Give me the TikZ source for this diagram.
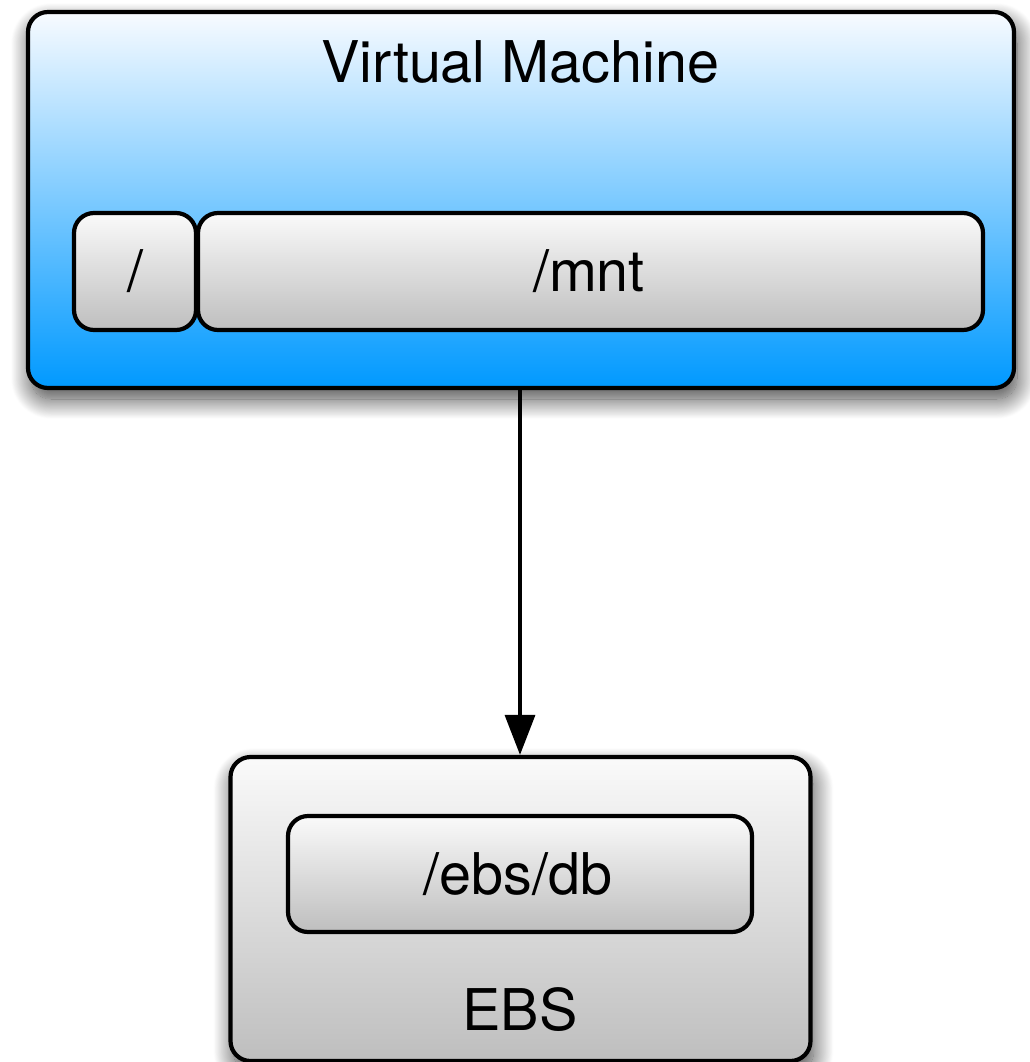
\documentclass[tikz,border=0pt]{standalone}
\usepackage{fontspec}
\setmainfont{TeX Gyre Heros}
\usetikzlibrary{shadows.blur,arrows.meta}
\definecolor{vmblue}{RGB}{0,153,255}
\definecolor{vmtop}{RGB}{248,251,255}
\definecolor{grtop}{RGB}{250,250,250}
\definecolor{grbot}{RGB}{190,190,190}
\tikzset{
  box/.style={draw=black, line width=4.2pt, rounded corners=20pt, inner sep=0pt},
  shd/.style={blur shadow={shadow xshift=3pt, shadow yshift=-11pt, shadow blur radius=20pt, shadow blur steps=24, shadow opacity=75}},
  vmbox/.style={box, top color=vmtop, bottom color=vmblue, shd},
  graybox/.style={box, top color=grtop, bottom color=grbot},
  ebsbox/.style={graybox, shd},
  lbl/.style={font=\fontsize{57.5}{62}\selectfont, inner sep=0pt},
  conn/.style={line width=3.4pt, -{Triangle[length=40pt,width=30pt]}}
}
\begin{document}
\begin{tikzpicture}[x=1pt,y=-1pt]
\useasboundingbox (0,0) rectangle (1029,1062);
\node[vmbox, minimum width=986pt, minimum height=376pt] (vm) at (521,200) {};
\node[lbl] (vmlabel) at (520,62) {Virtual Machine};
\node[graybox, minimum width=122pt, minimum height=117pt] (root) at (135,271.5) {};
\node[lbl] (rootlabel) at (135,271.5) {/};
\node[graybox, minimum width=785pt, minimum height=117pt] (mnt) at (590.5,271.5) {};
\node[lbl] (mntlabel) at (589,271.5) {/mnt};
\node[ebsbox, minimum width=580pt, minimum height=304pt] (ebs) at (520.5,909) {};
\node[graybox, minimum width=464pt, minimum height=116pt] (db) at (520,874) {};
\node[lbl] (dblabel) at (518,874) {/ebs/db};
\node[lbl] (ebslabel) at (520,1010) {EBS};
\draw[conn] (vm.south -| 520,0) -- (ebs.north -| 520,0);
\end{tikzpicture}
\end{document}
